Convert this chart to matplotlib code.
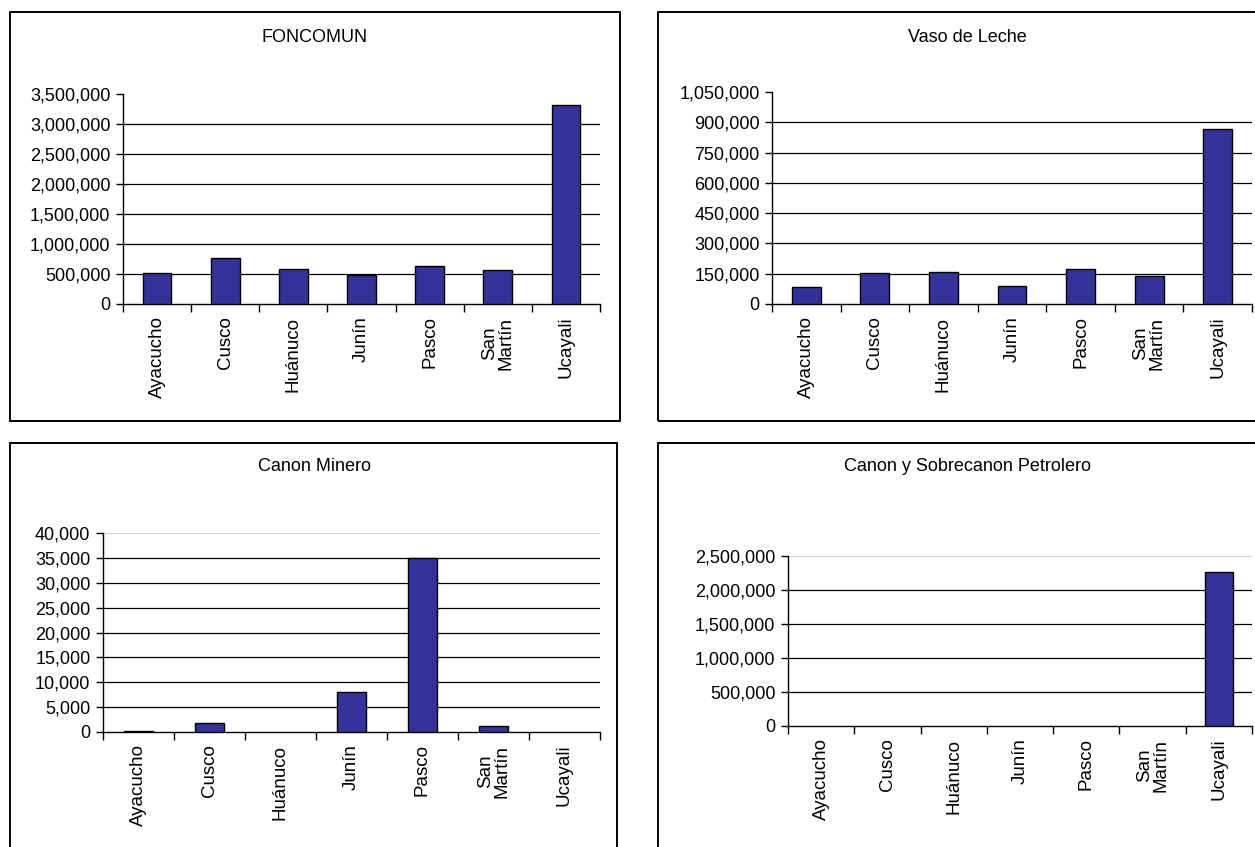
import numpy as np
import matplotlib
matplotlib.use('Agg')
import matplotlib.pyplot as plt
from matplotlib.patches import Rectangle
from matplotlib.ticker import FuncFormatter

plt.rcParams['font.family'] = ['Liberation Sans', 'DejaVu Sans']

regions = ['Ayacucho', 'Cusco', 'Huánuco', 'Junín', 'Pasco', 'San\nMartín', 'Ucayali']
foncomun = [510000, 770000, 580000, 490000, 630000, 560000, 3320000]
vaso_leche = [83000, 152000, 160000, 90000, 173000, 138000, 865000]
canon_minero = [300, 1800, 0, 8100, 35000, 1200, 0]
canon_petrolero = [0, 0, 0, 0, 0, 0, 2270000]

W, H = 1255, 847
fig = plt.figure(figsize=(W / 100, H / 100), dpi=100)


def px_axes(left, right, top, bottom):
    return fig.add_axes([left / W, 1 - bottom / H, (right - left) / W, (bottom - top) / H])


def frame(left, right, top, bottom):
    fig.patches.append(Rectangle((left / W, 1 - bottom / H), (right - left) / W, (bottom - top) / H,
                                 transform=fig.transFigure, fill=False, edgecolor='black', lw=1.4))


# title, values, ymax, step, axes px box, frame px box, title px pos, top line colour
panels = [
    ('FONCOMUN', foncomun, 3500000, 500000, (123, 600, 94, 304), (10, 620, 12, 421), (315, 37), None),
    ('Vaso de Leche', vaso_leche, 1050000, 150000, (772, 1252, 92, 304), (658, 1258, 12, 421), (967, 37), None),
    ('Canon Minero', canon_minero, 40000, 5000, (103, 600, 533, 732), (10, 617, 443, 852), (315, 466), '#c8c8c8'),
    ('Canon y Sobrecanon Petrolero', canon_petrolero, 2500000, 500000, (788, 1252, 556, 726), (658, 1258, 443, 852), (967, 466), '#c8c8c8'),
]

x = np.arange(len(regions))
for title, vals, ymax, step, abox, fbox, tpos, topc in panels:
    frame(*fbox)
    ax = px_axes(*abox)
    edge_w = [1 if v > 0 else 0 for v in vals]
    ax.bar(x, vals, width=0.42, color='#333399', edgecolor='black', linewidth=edge_w, zorder=3)
    ax.set_xlim(-0.5, len(regions) - 0.5)
    ax.set_ylim(0, ymax)
    yt = np.arange(0, ymax + step, step)
    ax.set_yticks(yt)
    ax.yaxis.set_major_formatter(FuncFormatter(lambda v, p: f'{int(v):,}'))
    for v in yt[1:-1]:
        ax.axhline(v, color='black', lw=0.9, zorder=1)
    if topc:
        ax.axhline(ymax, color=topc, lw=1.2, zorder=1)
    ax.set_xticks(x)
    ax.set_xticklabels(regions, rotation=90, linespacing=0.95)
    ax.set_xticks(np.arange(-0.5, len(regions)), minor=True)
    ax.tick_params(axis='x', which='major', length=0, pad=9, labelsize=13.5)
    ax.tick_params(axis='x', which='minor', length=6, width=1, direction='out')
    ax.tick_params(axis='y', length=5, width=1, direction='out', labelsize=13, pad=4)
    for s in ['top', 'right']:
        ax.spines[s].set_visible(False)
    for s in ['left', 'bottom']:
        ax.spines[s].set_linewidth(1)
    fig.text(tpos[0] / W, 1 - tpos[1] / H, title, ha='center', va='center', fontsize=13)

fig.savefig('out.png', dpi=100)
